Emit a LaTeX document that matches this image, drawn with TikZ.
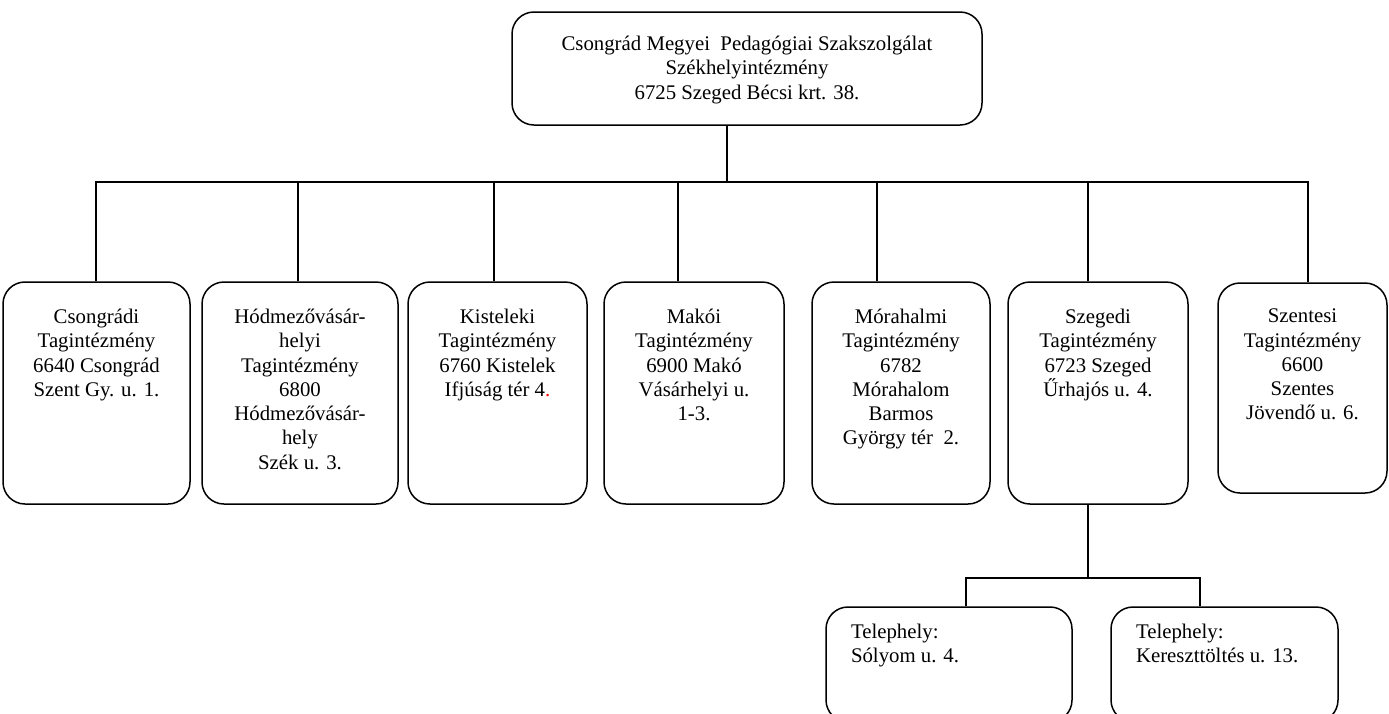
\documentclass[tikz,border=0pt]{standalone}
\usepackage{fontspec}
\setmainfont{Liberation Serif}
\usepackage{xcolor}
\usepackage{tikz}
\usetikzlibrary{positioning}

\begin{document}
\begin{tikzpicture}[x=1pt, y=-1pt, line width=1.5pt]
        \tikzstyle{unit} = [rectangle, draw, rounded corners=22pt, inner sep=0pt]
        \tikzstyle{unittext} = [align=center, inner sep=0pt, font=\fontsize{20.8}{24.3}\selectfont, execute at begin node=\strut]
        \tikzstyle{sitetext} = [unittext, align=left]

        \clip (0,0) rectangle (1389,713);

        % head office
        \node [unit, minimum width=470, minimum height=113] (head) at (747,68.5) {};
        \node [unittext, below=24pt of head.north] (head-t) {Csongrád Megyei~ Pedagógiai Szakszolgálat\\Székhelyintézmény\\6725 Szeged Bécsi krt. 38.};

        % member institutions
        \node [unit, minimum width=187, minimum height=222] (csongradi) at (96.5,393) {};
        \node [unit, minimum width=196, minimum height=222] (hodmezo) at (300,393) {};
        \node [unit, minimum width=179, minimum height=222] (kisteleki) at (497.5,393) {};
        \node [unit, minimum width=180, minimum height=222] (mako) at (694,393) {};
        \node [unit, minimum width=178, minimum height=222] (morahalmi) at (901,393) {};
        \node [unit, minimum width=180, minimum height=222] (szegedi) at (1098,393) {};
        \node [unit, minimum width=169, minimum height=210] (szentesi) at (1302.5,388) {};

        \node [unittext, below=27pt of csongradi.north] (csongradi-t) {Csongrádi\\Tagintézmény\\6640 Csongrád\\Szent Gy. u. 1.};
        \node [unittext, below=27pt of hodmezo.north] (hodmezo-t) {Hódmezővásár-\\helyi\\Tagintézmény\\6800\\Hódmezővásár-\\hely\\Szék u. 3.};
        \node [unittext, below=27pt of kisteleki.north] (kisteleki-t) {Kisteleki\\Tagintézmény\\6760 Kistelek\\Ifjúság tér 4\textcolor{red}{.}};
        \node [unittext, below=27pt of mako.north] (mako-t) {Makói\\Tagintézmény\\6900 Makó\\Vásárhelyi u.\\1-3.};
        \node [unittext, below=27pt of morahalmi.north] (morahalmi-t) {Mórahalmi\\Tagintézmény\\6782\\Mórahalom\\Barmos\\György tér~ 2.};
        \node [unittext, below=27pt of szegedi.north] (szegedi-t) {Szegedi\\Tagintézmény\\6723 Szeged\\Űrhajós u. 4.};
        \node [unittext, below=26pt of szentesi.north] (szentesi-t) {Szentesi\\Tagintézmény\\6600\\Szentes\\Jövendő u. 6.};

        % sites of Szeged
        \node [unit, minimum width=246, minimum height=115] (solyom) at (949,664.5) {};
        \node [unit, minimum width=227, minimum height=115] (kereszt) at (1224.5,664.5) {};
        \node [sitetext, below right=17pt and 25pt of solyom.north west] (solyom-t) {Telephely:\\Sólyom u. 4.};
        \node [sitetext, below right=17pt and 25pt of kereszt.north west] (kereszt-t) {Telephely:\\Kereszttöltés u. 13.};

        \coordinate (hub) at (727,182);
        \coordinate (subhub) at (1088,578);

        \draw (head.south -| hub) -- (hub);
        \draw ([xshift=-0.5pt]csongradi.north) |- (hub);
        \draw ([xshift=-2pt]hodmezo.north) |- (hub);
        \draw ([xshift=-3.5pt]kisteleki.north) |- (hub);
        \draw ([xshift=-16pt]mako.north) |- (hub);
        \draw ([xshift=-24pt]morahalmi.north) |- (hub);
        \draw ([xshift=-10pt]szegedi.north) |- (hub);
        \draw ([xshift=5.5pt]szentesi.north) |- (hub);

        \draw ([xshift=-10pt]szegedi.south) -- (subhub);
        \draw ([xshift=17pt]solyom.north) |- (subhub);
        \draw ([xshift=-24.5pt]kereszt.north) |- (subhub);
    \end{tikzpicture}
\end{document}
